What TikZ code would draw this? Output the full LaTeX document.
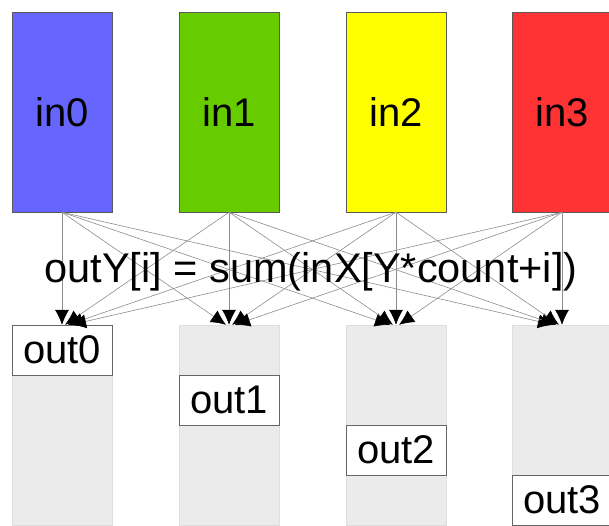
\documentclass[tikz,border=0pt]{standalone}
\usepackage{fontspec}
\setmainfont{Liberation Sans}
\usetikzlibrary{arrows.meta,positioning}
\definecolor{inblue}{RGB}{102,102,255}
\definecolor{ingreen}{RGB}{102,204,0}
\definecolor{inyellow}{RGB}{255,255,0}
\definecolor{inred}{RGB}{255,51,51}

\begin{document}
\begin{tikzpicture}[x=1pt,y=1pt,
    inbox/.style={draw=black!65,minimum width=100pt,minimum height=200pt,inner sep=0pt,font=\fontsize{40}{48}\selectfont},
    outcol/.style={draw=black!13,fill=black!8,minimum width=100pt,minimum height=200pt,inner sep=0pt},
    outlabel/.style={draw=black!60,fill=white,minimum width=100pt,minimum height=50pt,inner sep=0pt,font=\fontsize{40}{48}\selectfont},
    feed/.style={draw=black!45,line width=0.6pt,-{Latex[black,length=15pt,width=14pt]}}]
  \useasboundingbox (0,0) rectangle (609,-525);
  \node[inbox,fill=inblue] (in0) at (62,-112) {in0};
  \node[inbox,fill=ingreen] (in1) at (229,-112) {in1};
  \node[inbox,fill=inyellow] (in2) at (396,-112) {in2};
  \node[inbox,fill=inred] (in3) at (562,-112) {in3};
  \node[outcol] (col0) at (62,-425) {};
  \node[outcol] (col1) at (229,-425) {};
  \node[outcol] (col2) at (396,-425) {};
  \node[outcol] (col3) at (562,-425) {};
  \node[outlabel,below=0pt of col0.north] (out0) {out0};
  \node[outlabel,below=50pt of col1.north] (out1) {out1};
  \node[outlabel,below=100pt of col2.north] (out2) {out2};
  \node[outlabel,below=150pt of col3.north] (out3) {out3};
  \draw[feed] (in0.south) -- (col0.north);
  \draw[feed] (in0.south) -- ([xshift=-3pt]col1.north);
  \draw[feed] (in0.south) -- ([xshift=-6pt]col2.north);
  \draw[feed] (in0.south) -- ([xshift=-9pt]col3.north);
  \draw[feed] (in1.south) -- ([xshift=3pt]col0.north);
  \draw[feed] (in1.south) -- (col1.north);
  \draw[feed] (in1.south) -- ([xshift=-3pt]col2.north);
  \draw[feed] (in1.south) -- ([xshift=-6pt]col3.north);
  \draw[feed] (in2.south) -- ([xshift=6pt]col0.north);
  \draw[feed] (in2.south) -- ([xshift=3pt]col1.north);
  \draw[feed] (in2.south) -- (col2.north);
  \draw[feed] (in2.south) -- ([xshift=-3pt]col3.north);
  \draw[feed] (in3.south) -- ([xshift=9pt]col0.north);
  \draw[feed] (in3.south) -- ([xshift=6pt]col1.north);
  \draw[feed] (in3.south) -- ([xshift=3pt]col2.north);
  \draw[feed] (in3.south) -- (col3.north);
  \node[anchor=base,font=\fontsize{41.5}{50}\selectfont] (rule) at (311,-282) {outY[i] = sum(inX[Y*count+i])};
\end{tikzpicture}
\end{document}
